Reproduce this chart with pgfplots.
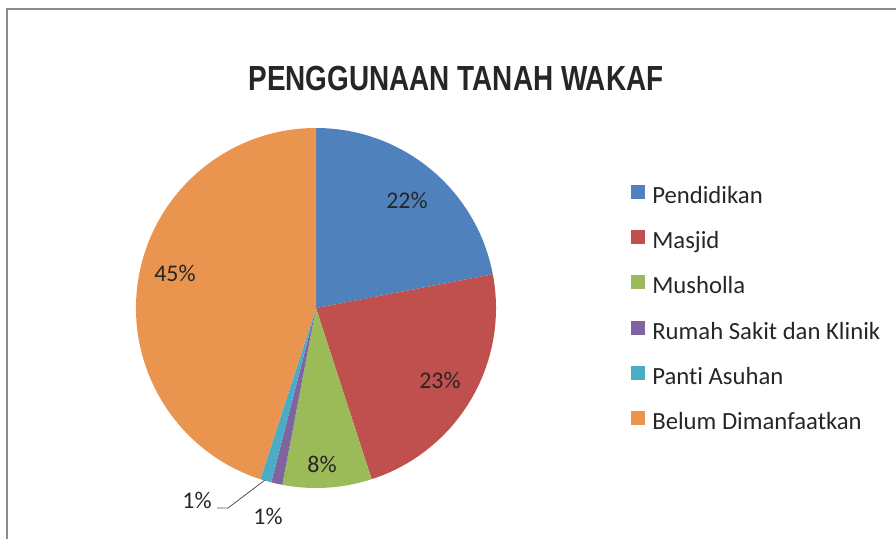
\documentclass[border=0pt]{standalone}
\usepackage{pgfplots}
\pgfplotsset{compat=1.18}
\usepackage{pgfplotstable}
\usepackage{fontspec}
\setmainfont{Carlito}[Ligatures=NoCommon]
\newfontfamily\titlefont{Liberation Sans}
\definecolor{cA}{HTML}{4F81BD}
\definecolor{cB}{HTML}{C0504D}
\definecolor{cC}{HTML}{9BBB59}
\definecolor{cD}{HTML}{8064A2}
\definecolor{cE}{HTML}{4BACC6}
\definecolor{cF}{HTML}{E9944F}
\definecolor{txt}{HTML}{262626}
\definecolor{frame}{HTML}{8C8C8C}
\pgfplotstableread{
label pct col
Pendidikan 22 cA
Masjid 23 cB
Musholla 8 cC
RumahSakit 1 cD
PantiAsuhan 1 cE
Belum 45 cF
}\piedata
\begin{document}
\begin{tikzpicture}
\useasboundingbox (0,0) rectangle (896bp,-539bp);
\draw[frame, line width=2bp] (6.5bp,-539bp) -- (6.5bp,-8.5bp) -- (896bp,-8.5bp);
\node[txt] at (456bp,-78bp) {\scalebox{0.8}[1]{\fontsize{35}{40}\selectfont\titlefont\bfseries PENGGUNAAN TANAH WAKAF}};
\begin{axis}[
  at={(316bp,-308bp)}, anchor=origin,
  x=180bp, y=180bp, xmin=-1, xmax=1, ymin=-1, ymax=1,
  hide axis, clip=false,
  legend image code/.code={\fill[#1, draw=none] (0bp,-1bp) rectangle (14bp,13bp);},
  legend cell align=left,
  legend style={at={(axis cs:1.734,0.697)}, anchor=north west, draw=none, fill=none,
    font=\fontsize{24.8}{28}\selectfont, text=txt,
    nodes={inner sep=0pt, text height=16bp, text depth=5bp},
    row sep=21.8bp,
    /tikz/every odd column/.style={column sep=7bp}},
]
\pgfplotstablegetrowsof{\piedata}
\pgfmathtruncatemacro\N{\pgfplotsretval-1}
\gdef\cum{90}
\pgfplotsforeachungrouped \i in {0,...,\N}{%
  \pgfplotstablegetelem{\i}{pct}\of\piedata \let\p\pgfplotsretval
  \pgfplotstablegetelem{\i}{col}\of\piedata \let\c\pgfplotsretval
  \pgfmathsetmacro\endang{\cum-3.6*\p}%
  \edef\temp{\noexpand\fill[\c] (axis cs:0,0) -- (axis cs:{cos(\cum)},{sin(\cum)}) arc[start angle=\cum, end angle=\endang, radius=180bp] -- cycle;}%
  \temp
  \global\let\cum\endang
}
\addlegendimage{fill=cA}\addlegendentry{Pendidikan}
\addlegendimage{fill=cB}\addlegendentry{Masjid}
\addlegendimage{fill=cC}\addlegendentry{Musholla}
\addlegendimage{fill=cD}\addlegendentry{Rumah Sakit dan Klinik}
\addlegendimage{fill=cE}\addlegendentry{Panti Asuhan}
\addlegendimage{fill=cF}\addlegendentry{Belum Dimanfaatkan}
\end{axis}
\begin{scope}[every node/.style={text=txt, font=\fontsize{24}{28}\selectfont}]
\node at (407bp,-200bp) {22\%};
\node at (440bp,-380bp) {23\%};
\node at (322bp,-464bp) {8\%};
\node at (175bp,-273bp) {45\%};
\node at (268bp,-516bp) {1\%};
\node at (197bp,-500bp) {1\%};
\end{scope}
\draw[txt!80, line width=0.8bp] (217bp,-508bp) -- (228bp,-508bp) -- (265bp,-480bp);
\end{tikzpicture}
\end{document}
